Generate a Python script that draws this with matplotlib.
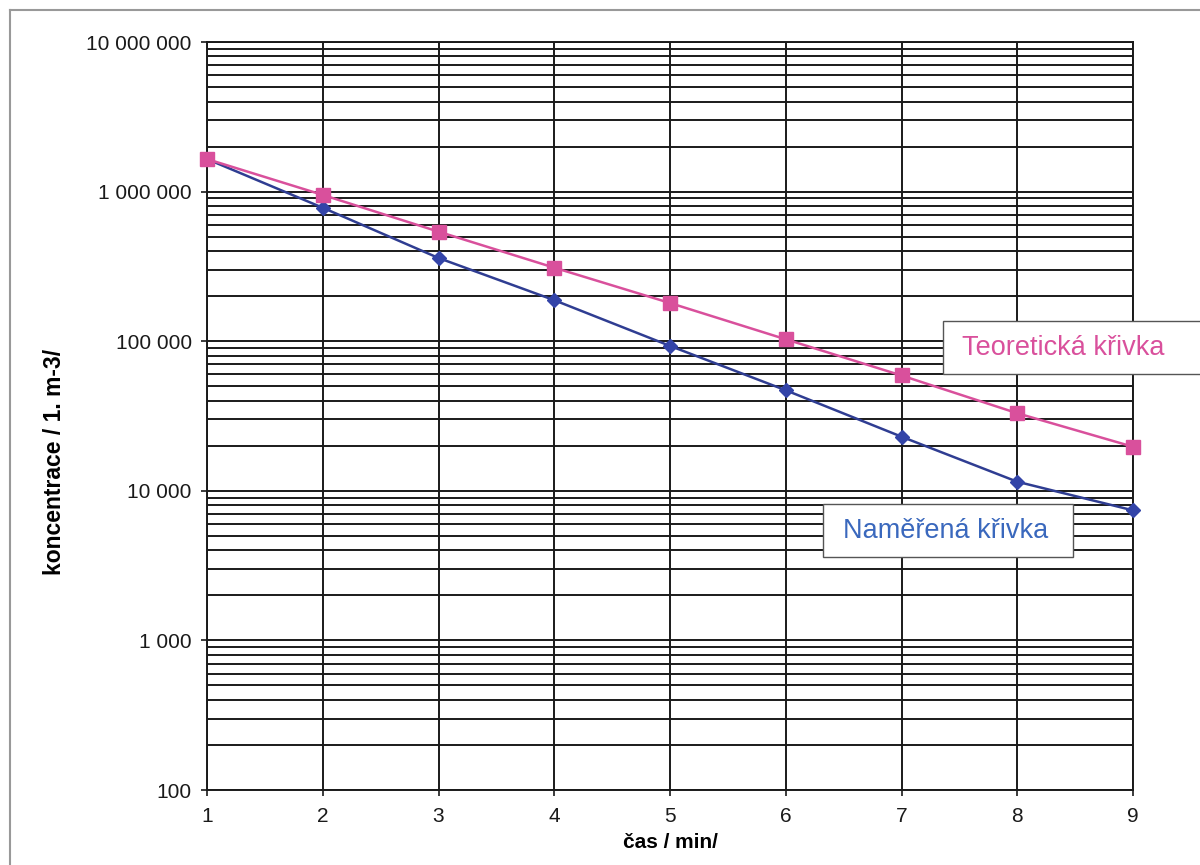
import numpy as np
import matplotlib
matplotlib.use("Agg")
from matplotlib import pyplot as plt
from matplotlib.ticker import FixedLocator, LogLocator, FuncFormatter
from matplotlib.patches import Rectangle
from matplotlib.lines import Line2D

plt.rcParams['font.family'] = ['Liberation Sans', 'DejaVu Sans']

# data
cas = [1, 2, 3, 4, 5, 6, 7, 8, 9]
teoreticka = [1.65e6, 9.5e5, 5.4e5, 3.1e5, 1.8e5, 1.03e5, 5.9e4, 3.3e4, 1.97e4]
namerena = [1.65e6, 7.8e5, 3.6e5, 1.88e5, 9.3e4, 4.7e4, 2.3e4, 1.15e4, 7.4e3]
y_ticks = [100, 1000, 10000, 100000, 1000000, 10000000]

pink = '#d9509c'
blue = '#2f3d92'

W, H = 1200, 865
fig = plt.figure(figsize=(12, 8.65), dpi=100)
ax = fig.add_axes([207/W, 1-790/H, (1133-207)/W, (790-42)/H])

ax.plot(cas, namerena, color=blue, lw=1.8, marker='D', ms=7,
        mfc='#3344a8', mec='#3344a8', zorder=4, clip_on=False)
ax.plot(cas, teoreticka, color=pink, lw=1.8, marker='s', ms=10,
        mfc=pink, mec=pink, zorder=5, clip_on=False)

ax.set_yscale('log')
ax.set_ylim(100, 1e7)
ax.set_xlim(1, 9)
ax.xaxis.set_major_locator(FixedLocator(cas))
ax.yaxis.set_major_locator(FixedLocator(y_ticks))
ax.yaxis.set_minor_locator(LogLocator(base=10, subs=np.arange(2, 10)))
ax.yaxis.set_major_formatter(FuncFormatter(lambda v, p: f"{int(round(v)):,}".replace(",", " ")))
ax.yaxis.set_minor_formatter(FuncFormatter(lambda v, p: ""))

ax.grid(True, which='major', color='#1a1a1a', lw=1.4)
ax.grid(True, which='minor', axis='y', color='#1a1a1a', lw=1.4)
ax.set_axisbelow(True)
for s in ax.spines.values():
    s.set_color('#1a1a1a')
    s.set_linewidth(1.4)

ax.tick_params(axis='both', which='major', length=4, width=1.2, labelsize=15, colors='#1a1a1a')
ax.tick_params(axis='y', which='major', pad=7)
ax.tick_params(axis='x', which='major', pad=8)
ax.tick_params(axis='y', which='minor', length=0)

ax.set_xlabel('čas / min/', fontsize=15, fontweight='bold', labelpad=5)
fig.text(55/W, 1-462/H, 'koncentrace / 1. m-3/', fontsize=16.5, fontweight='bold',
         rotation=90, ha='center', va='center')

# label boxes
fig.patches.append(Rectangle((943/W, 1-374/H), 270/W, 53/H, transform=fig.transFigure,
                             facecolor='white', edgecolor='#555555', lw=1.0, zorder=10))
fig.text(962/W, 1-348/H, 'Teoretická křivka', color=pink, fontsize=19.5, va='center', ha='left', zorder=11)
fig.patches.append(Rectangle((823/W, 1-557/H), 250/W, 53/H, transform=fig.transFigure,
                             facecolor='white', edgecolor='#555555', lw=1.0, zorder=10))
fig.text(843/W, 1-531/H, 'Naměřená křivka', color='#3a68bd', fontsize=19.5, va='center', ha='left', zorder=11)

# outer frame of the scanned chart
fig.lines.append(Line2D([9.5/W, 9.5/W], [0, 1-10/H], transform=fig.transFigure, color='#999999', lw=1.5))
fig.lines.append(Line2D([9.5/W, 1], [1-10/H, 1-10/H], transform=fig.transFigure, color='#999999', lw=1.5))

fig.savefig('out.png', dpi=100)
